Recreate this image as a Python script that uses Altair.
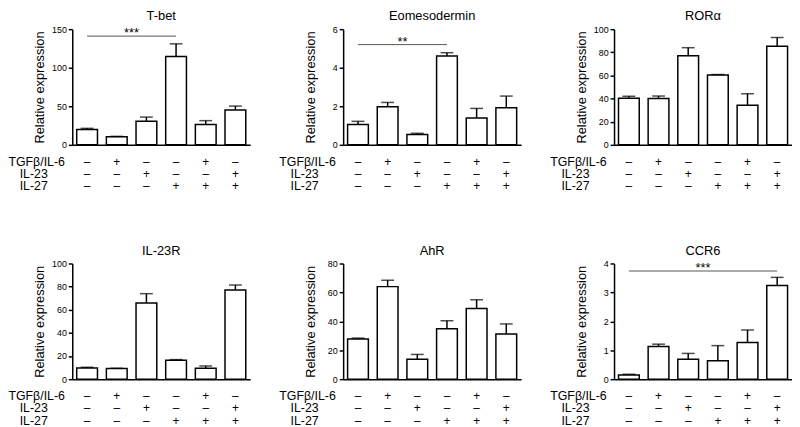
import altair as alt
import pandas as pd

FONT = "Liberation Sans"

CONDS = ["c1", "c2", "c3", "c4", "c5", "c6"]
TGF = ["–", "+", "–", "–", "+", "–"]
IL23 = ["–", "–", "+", "–", "–", "+"]
IL27 = ["–", "–", "–", "+", "+", "+"]
ROW_LABELS = ["TGFβ/IL-6", "IL-23", "IL-27"]

TBET_MEAN = [20, 10.5, 30.6, 114.5, 26.4, 45.3]
TBET_SEM = [1.4, 0.5, 5.4, 16.5, 5.0, 5.0]
EOMES_MEAN = [1.06, 1.98, 0.54, 4.61, 1.39, 1.93]
EOMES_SEM = [0.16, 0.22, 0.06, 0.17, 0.5, 0.6]
RORA_MEAN = [40.3, 40, 77, 60.3, 34.2, 85.3]
RORA_SEM = [1.7, 2.2, 7.0, 0.5, 10.0, 7.5]
IL23R_MEAN = [9.7, 9.2, 65.8, 16.4, 9.4, 77]
IL23R_SEM = [0.6, 0.2, 8.1, 0.5, 2.0, 4.4]
AHR_MEAN = [27.8, 64, 13.8, 34.9, 48.9, 31.3]
AHR_SEM = [0.6, 4.4, 3.3, 5.5, 6.0, 6.9]
CCR6_MEAN = [0.14, 1.13, 0.69, 0.64, 1.27, 3.24]
CCR6_SEM = [0.03, 0.08, 0.2, 0.52, 0.43, 0.28]

TBET_TICKS = [0, 50, 100, 150]
EOMES_TICKS = [0, 2, 4, 6]
RORA_TICKS = [0, 20, 40, 60, 80, 100]
IL23R_TICKS = [0, 20, 40, 60, 80, 100]
AHR_TICKS = [0, 20, 40, 60, 80]
CCR6_TICKS = [0, 1, 2, 3, 4]

# significance: from, to, midpoint-left category, level, label
TBET_SIG = ["c1", "c4", "c2", 141, "***"]
EOMES_SIG = ["c1", "c4", "c2", 5.2, "**"]
CCR6_SIG = ["c1", "c6", "c3", 3.74, "***"]

W = 180
H = 117
ROW_Y = [H + 17, H + 29.5, H + 42]
LABEL_X = [-36, -39, -39]


def panel(title, means, sems, ticks, sig=None):
    df = pd.DataFrame({"cond": CONDS, "mean": means, "sem": sems,
                       "r0": TGF, "r1": IL23, "r2": IL27})
    base = alt.Chart(df).transform_calculate(top="datum.mean + datum.sem")
    xenc = alt.X("cond:N", scale=alt.Scale(domain=CONDS, paddingInner=0.3, paddingOuter=0.15),
                 axis=alt.Axis(labels=False, ticks=False, title=None, domainColor="black",
                               domainWidth=1.5))
    yscale = alt.Scale(domain=[0, ticks[-1]], nice=False)
    yaxis = alt.Axis(values=ticks, tickCount=len(ticks) + 2, labelOverlap=False, format="d",
                     title="Relative expression", grid=False,
                     domainColor="black", domainWidth=1.5, tickColor="black", tickWidth=1.5,
                     tickSize=4, labelFontSize=9, labelColor="black", labelPadding=2,
                     labelFont=FONT, titleFont=FONT, titleFontSize=13, titleFontWeight="normal",
                     titleColor="black", titleX=-33, titleY=H / 2, titleBaseline="middle",
                     titleAngle=270)
    bars = base.mark_bar(fill="white", stroke="black", strokeWidth=1.5).encode(
        x=xenc, y=alt.Y("mean:Q", scale=yscale, axis=yaxis))
    err = base.mark_rule(color="black", strokeWidth=1.5).encode(
        x="cond:N", y="mean:Q", y2="top:Q")
    cap = base.mark_tick(color="black", thickness=1.5, size=13).encode(
        x="cond:N", y="top:Q")
    layers = [bars, err, cap]
    for i, key in enumerate(["r0", "r1", "r2"]):
        layers.append(base.mark_text(font=FONT, fontSize=12, baseline="middle", color="black").encode(
            x="cond:N", y=alt.value(ROW_Y[i]), text=f"{key}:N"))
        layers.append(alt.Chart(pd.DataFrame({"label": [ROW_LABELS[i]]})).mark_text(
            font=FONT, fontSize=12.5, baseline="middle", align="center", color="black").encode(
            x=alt.value(LABEL_X[i]), y=alt.value(ROW_Y[i]), text="label:N"))
    if sig is not None:
        sdf = pd.DataFrame({"from": [sig[0]], "to": [sig[1]], "mid": [sig[2]],
                            "lvl": [sig[3]], "label": [sig[4]]})
        sc = alt.Chart(sdf)
        layers.append(sc.mark_rule(color="#555555", strokeWidth=1).encode(
            x="from:N", x2="to:N", y="lvl:Q"))
        layers.append(sc.mark_text(font=FONT, fontSize=13, dx=15, dy=1, baseline="alphabetic",
                                   color="black").encode(x="mid:N", y="lvl:Q", text="label:N"))
    return alt.layer(*layers).properties(
        width=W, height=H,
        title=alt.TitleParams(title, font=FONT, fontSize=13, fontWeight="normal",
                              color="black", offset=2, frame="group"))


charts = [
    panel("T-bet", TBET_MEAN, TBET_SEM, TBET_TICKS, TBET_SIG),
    panel("Eomesodermin", EOMES_MEAN, EOMES_SEM, EOMES_TICKS, EOMES_SIG),
    panel("RORα", RORA_MEAN, RORA_SEM, RORA_TICKS),
    panel("IL-23R", IL23R_MEAN, IL23R_SEM, IL23R_TICKS),
    panel("AhR", AHR_MEAN, AHR_SEM, AHR_TICKS),
    panel("CCR6", CCR6_MEAN, CCR6_SEM, CCR6_TICKS, CCR6_SIG),
]

chart = alt.concat(*charts, columns=3, spacing={"row": 120, "column": 94},
                   bounds="flush").properties(
    padding={"left": 0, "top": 0, "right": 0, "bottom": 0}
).configure_view(stroke=None)

chart.save("out.html", embed_options={"renderer": "svg", "actions": False})
